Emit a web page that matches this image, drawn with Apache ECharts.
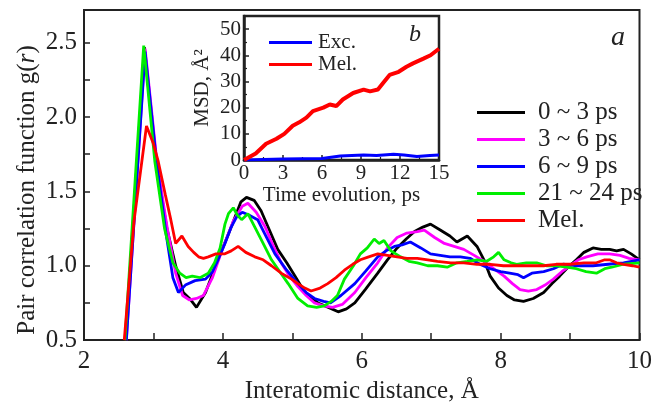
<!DOCTYPE html>
<html>
<head>
<meta charset="utf-8">
<script src="https://cdn.jsdelivr.net/npm/echarts@6/dist/echarts.min.js"></script>
<style>
  html, body { margin: 0; padding: 0; background: #fff; }
  #chart { width: 655px; height: 409px; }
</style>
</head>
<body>
<div id="chart"></div>
<script>
// pair correlation g(r), [r (Å), g]
const g0to3 = [[2.60,0.5],[2.87,2.47],[3.03,1.72],[3.19,1.26],[3.32,1.0],[3.43,0.82],[3.52,0.78],[3.62,0.72],[3.75,0.82],[3.93,1.04],[4.12,1.26],[4.26,1.43],[4.34,1.46],[4.45,1.44],[4.55,1.37],[4.67,1.24],[4.79,1.11],[4.92,1.02],[5.04,0.93],[5.18,0.82],[5.37,0.75],[5.52,0.72],[5.66,0.69],[5.78,0.71],[5.90,0.75],[6.05,0.84],[6.23,0.95],[6.37,1.04],[6.51,1.12],[6.64,1.18],[6.76,1.23],[6.88,1.26],[6.99,1.28],[7.13,1.24],[7.27,1.20],[7.37,1.16],[7.52,1.20],[7.66,1.13],[7.76,1.04],[7.85,0.93],[7.97,0.85],[8.09,0.80],[8.2,0.77],[8.33,0.76],[8.47,0.78],[8.62,0.82],[8.74,0.88],[8.85,0.93],[8.97,0.99],[9.09,1.04],[9.2,1.09],[9.33,1.12],[9.45,1.11],[9.57,1.11],[9.67,1.10],[9.77,1.11],[9.88,1.08],[10.0,1.04]];
const g3to6 = [[2.61,0.5],[2.88,2.46],[3.05,1.70],[3.2,1.25],[3.32,0.95],[3.42,0.80],[3.52,0.77],[3.62,0.78],[3.72,0.80],[3.85,0.92],[4.0,1.12],[4.15,1.30],[4.28,1.40],[4.36,1.42],[4.48,1.36],[4.61,1.26],[4.72,1.14],[4.84,1.02],[4.96,0.93],[5.08,0.86],[5.2,0.80],[5.32,0.75],[5.45,0.73],[5.58,0.72],[5.72,0.74],[5.9,0.82],[6.06,0.92],[6.23,1.02],[6.37,1.12],[6.51,1.19],[6.65,1.22],[6.8,1.23],[6.9,1.24],[7.05,1.19],[7.19,1.15],[7.33,1.13],[7.47,1.11],[7.62,1.07],[7.76,1.03],[7.9,0.98],[8.05,0.93],[8.17,0.88],[8.28,0.84],[8.4,0.83],[8.52,0.84],[8.64,0.87],[8.76,0.91],[8.88,0.96],[9.0,1.0],[9.12,1.04],[9.24,1.06],[9.4,1.08],[9.57,1.08],[9.72,1.07],[9.85,1.05],[10,1.04]];
const g6to9 = [[2.61,0.5],[2.88,2.44],[3.04,1.72],[3.18,1.22],[3.28,0.92],[3.36,0.82],[3.46,0.87],[3.6,0.90],[3.75,0.91],[3.85,0.96],[3.93,1.04],[4.03,1.15],[4.12,1.26],[4.2,1.33],[4.28,1.36],[4.38,1.34],[4.5,1.31],[4.62,1.20],[4.75,1.08],[4.92,0.97],[5.08,0.88],[5.2,0.82],[5.32,0.78],[5.45,0.76],[5.55,0.75],[5.7,0.80],[5.9,0.88],[6.05,0.96],[6.23,1.06],[6.35,1.10],[6.47,1.13],[6.58,1.14],[6.7,1.16],[6.85,1.12],[6.99,1.08],[7.13,1.07],[7.27,1.06],[7.42,1.06],[7.56,1.05],[7.7,1.01],[7.85,0.98],[8.0,0.96],[8.13,0.95],[8.25,0.94],[8.33,0.92],[8.45,0.95],[8.62,0.96],[8.76,0.98],[8.9,1.01],[9.1,1.0],[9.33,1.0],[9.55,1.01],[9.77,1.02],[10,1.04]];
const g21to24 = [[2.59,0.5],[2.86,2.48],[3.02,1.70],[3.16,1.25],[3.28,1.02],[3.38,0.95],[3.47,0.92],[3.56,0.93],[3.67,0.92],[3.79,0.95],[3.88,1.02],[3.96,1.12],[4.03,1.28],[4.08,1.35],[4.15,1.39],[4.21,1.34],[4.27,1.31],[4.36,1.35],[4.46,1.26],[4.58,1.15],[4.7,1.04],[4.82,0.96],[4.94,0.88],[5.08,0.78],[5.22,0.73],[5.35,0.72],[5.46,0.73],[5.56,0.76],[5.65,0.80],[5.75,0.91],[5.88,1.0],[5.98,1.08],[6.08,1.12],[6.18,1.18],[6.25,1.15],[6.32,1.17],[6.42,1.10],[6.56,1.06],[6.68,1.03],[6.8,1.02],[6.95,1.0],[7.09,1.0],[7.23,0.99],[7.37,1.02],[7.52,1.03],[7.66,1.04],[7.8,1.03],[7.9,1.06],[7.97,1.09],[8.05,1.04],[8.15,1.02],[8.23,1.01],[8.37,1.02],[8.52,1.02],[8.66,1.0],[8.81,1.0],[8.95,0.99],[9.09,0.98],[9.23,0.96],[9.38,0.95],[9.5,0.98],[9.6,0.99],[9.77,1.01],[10,1.02]];
const gMel = [[2.58,0.5],[2.72,1.3],[2.9,1.94],[3.0,1.82],[3.07,1.70],[3.17,1.48],[3.25,1.31],[3.32,1.15],[3.41,1.20],[3.5,1.13],[3.58,1.09],[3.65,1.06],[3.72,1.05],[3.79,1.06],[3.9,1.08],[4.03,1.08],[4.12,1.10],[4.22,1.13],[4.33,1.09],[4.46,1.06],[4.58,1.04],[4.7,1.0],[4.84,0.95],[4.99,0.91],[5.08,0.88],[5.18,0.85],[5.27,0.83],[5.4,0.85],[5.51,0.88],[5.63,0.92],[5.75,0.97],[5.87,1.01],[5.98,1.04],[6.1,1.06],[6.23,1.08],[6.37,1.07],[6.51,1.06],[6.65,1.05],[6.8,1.05],[6.95,1.04],[7.09,1.03],[7.28,1.02],[7.47,1.02],[7.66,1.01],[7.85,1.01],[8.04,1.0],[8.23,1.0],[8.42,1.0],[8.62,1.0],[8.8,1.01],[9.0,1.01],[9.2,1.02],[9.38,1.02],[9.5,1.04],[9.57,1.04],[9.67,1.02],[9.77,1.01],[9.9,1.0],[10,0.99]];

// inset: MSD vs time
const tMel = [0,0.9,1.7,2.5,3.1,3.75,4.25,4.8,5.3,6.1,6.6,7.1,7.6,8.4,9.2,9.7,10.3,10.7,11.2,11.9,12.5,13.0,13.8,14.35,15];
const msdMel = [0,2.5,6.2,8.1,10,13.1,14.4,16.2,18.7,20,21.2,20.6,23.1,25.6,26.9,26.2,26.9,29.4,32.5,33.7,35.6,36.9,38.7,40,42.5];
const tExc = [0,3,6,7.4,9.2,10.2,11.5,12.3,13.3,14.3,15];
const msdExc = [0,0.4,0.6,1.5,1.9,1.7,2.2,1.9,1.3,1.7,1.9];

const seriesNames = ['0 ~ 3 ps', '3 ~ 6 ps', '6 ~ 9 ps', '21 ~ 24 ps', 'Mel.'];
const seriesColors = ['#000000', '#ff00ff', '#0000ff', '#00ee00', '#ff0000'];
const seriesData = [g0to3, g3to6, g6to9, g21to24, gMel];

const font = 'Liberation Serif';
const txt = '#222';
const fs = 25;   // main plot text
const fsIn = 21; // inset text

const chart = echarts.init(document.getElementById('chart'));

const mainSeries = seriesData.map((d, i) => ({
  name: seriesNames[i],
  type: 'line',
  xAxisIndex: 0,
  yAxisIndex: 0,
  data: d,
  showSymbol: false,
  symbol: 'none',
  lineStyle: { color: seriesColors[i], width: 2.8 },
  itemStyle: { color: seriesColors[i] },
  z: 2 + i,
}));

const zip = (a, b) => a.map((v, i) => [v, b[i]]);

const option = {
  animation: false,
  backgroundColor: '#fff',
  textStyle: { fontFamily: font },
  grid: [
    { left: 84, top: 10, right: 12, bottom: 64, show: true, borderColor: txt, borderWidth: 2 },
    { left: 244, top: 16, width: 195, height: 144, show: true, borderColor: txt, borderWidth: 2.5, backgroundColor: '#fff', z: 10 },
  ],
  xAxis: [
    {
      type: 'value', gridIndex: 0, min: 2, max: 10, interval: 1,
      name: 'Interatomic distance, Å', nameLocation: 'middle', nameGap: 31,
      nameTextStyle: { fontFamily: font, fontSize: fs, color: txt },
      axisLine: { lineStyle: { color: txt, width: 2 } },
      axisTick: { inside: true, length: 7, lineStyle: { color: txt, width: 1.5 } },
      axisLabel: { fontFamily: font, fontSize: fs, color: txt, margin: 9,
        formatter: v => (v % 2 === 0 ? String(v) : '') },
      splitLine: { show: false },
    },
    {
      type: 'value', gridIndex: 1, min: 0, max: 15, interval: 3,
      name: 'Time evolution, ps', nameLocation: 'middle', nameGap: 21,
      nameTextStyle: { fontFamily: font, fontSize: fsIn, color: txt },
      axisLine: { lineStyle: { color: txt, width: 2.5 } },
      axisTick: { inside: true, length: 5, lineStyle: { color: txt, width: 1.5 } },
      minorTick: { show: true, splitNumber: 2, length: 3, lineStyle: { color: txt, width: 1.2 } },
      axisLabel: { fontFamily: font, fontSize: fsIn, color: txt, margin: 3 },
      splitLine: { show: false },
      z: 11,
    },
  ],
  yAxis: [
    {
      type: 'value', gridIndex: 0, min: 0.5, max: 2.72, interval: 0.25,
      axisLine: { lineStyle: { color: txt, width: 2 } },
      axisTick: { inside: true, length: 6, lineStyle: { color: txt, width: 1.5 } },
      axisLabel: { fontFamily: font, fontSize: fs, color: txt, margin: 7, showMaxLabel: false,
        formatter: v => (Math.abs(v * 2 - Math.round(v * 2)) < 1e-6 ? v.toFixed(1) : '') },
      splitLine: { show: false },
    },
    {
      type: 'value', gridIndex: 1, min: 0, max: 55, interval: 10,
      name: 'MSD, Å²', nameLocation: 'middle', nameGap: 31,
      nameTextStyle: { fontFamily: font, fontSize: fsIn, color: txt },
      axisLine: { lineStyle: { color: txt, width: 2.5 } },
      axisTick: { inside: true, length: 5, lineStyle: { color: txt, width: 1.5 } },
      minorTick: { show: true, splitNumber: 2, length: 3, lineStyle: { color: txt, width: 1.2 } },
      axisLabel: { fontFamily: font, fontSize: fsIn, color: txt, margin: 3, showMaxLabel: false },
      splitLine: { show: false },
      z: 11,
    },
  ],
  legend: [
    {
      data: seriesNames,
      orient: 'vertical', left: 472, top: 95,
      icon: 'rect', itemWidth: 48, itemHeight: 3, itemGap: 2,
      textStyle: { fontFamily: font, fontSize: fs, color: txt, lineHeight: 25, padding: [0, 0, 0, 8] },
    },
    {
      data: ['Exc.', 'Mel. '],
      orient: 'vertical', left: 264, top: 27,
      icon: 'rect', itemWidth: 43, itemHeight: 3, itemGap: 1,
      textStyle: { fontFamily: font, fontSize: fsIn, color: txt, lineHeight: 21, padding: [0, 0, 0, 1] },
      z: 12,
    },
  ],
  graphic: [
    // y axis title of the main plot, with italic r
    { type: 'text', x: 27, y: 190, rotation: Math.PI / 2, z: 20,
      style: {
        text: '{n|Pair correlation function g(}{i|r}{n|)}',
        align: 'center', verticalAlign: 'middle',
        font: fs + 'px "Liberation Serif"', fill: txt,
        rich: {
          n: { font: fs + 'px "Liberation Serif"', fill: txt },
          i: { font: 'italic ' + fs + 'px "Liberation Serif"', fill: txt },
        },
      } },
    { type: 'text', left: 611, top: 24, z: 20,
      style: { text: 'a', fontFamily: font, fontSize: 28, fontStyle: 'italic', fill: txt } },
    { type: 'text', left: 409, top: 23, z: 20,
      style: { text: 'b', fontFamily: font, fontSize: 24, fontStyle: 'italic', fill: txt } },
  ],
  series: mainSeries.concat([
    {
      name: 'Exc.', type: 'line', xAxisIndex: 1, yAxisIndex: 1,
      data: zip(tExc, msdExc), showSymbol: false, symbol: 'none',
      lineStyle: { color: '#0000ff', width: 3 }, itemStyle: { color: '#0000ff' }, z: 12,
    },
    {
      name: 'Mel. ', type: 'line', xAxisIndex: 1, yAxisIndex: 1,
      data: zip(tMel, msdMel), showSymbol: false, symbol: 'none',
      lineStyle: { color: '#ff0000', width: 4 }, itemStyle: { color: '#ff0000' }, z: 12,
    },
  ]),
};

chart.setOption(option);
</script>
</body>
</html>
